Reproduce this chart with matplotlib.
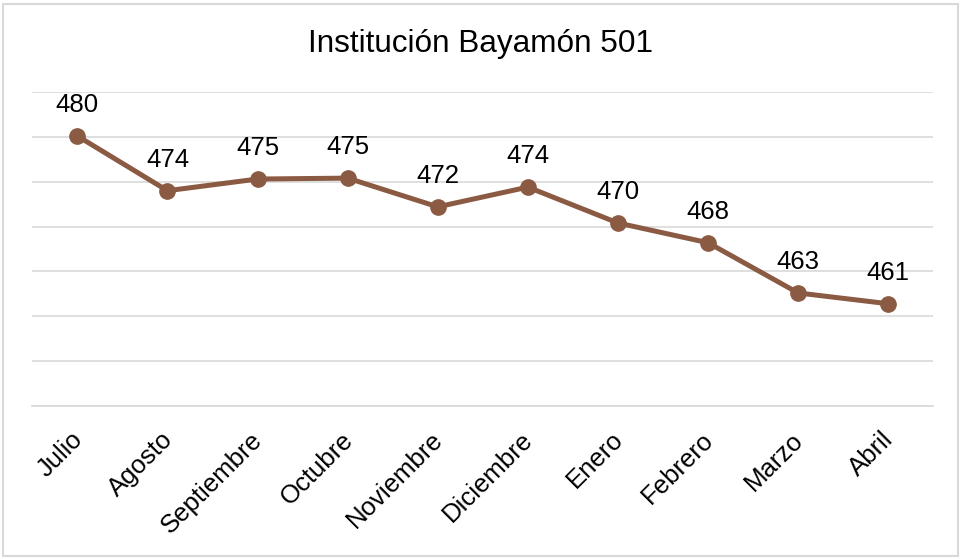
import matplotlib
matplotlib.use("Agg")
import matplotlib.pyplot as plt
from matplotlib.patches import Rectangle
from matplotlib.transforms import ScaledTranslation

# Datos
meses = ["Julio", "Agosto", "Septiembre", "Octubre", "Noviembre",
         "Diciembre", "Enero", "Febrero", "Marzo", "Abril"]
valores = [480.1, 474.0, 475.3, 475.4, 472.2, 474.4, 470.4, 468.2, 462.6, 461.4]
etiquetas = ["480", "474", "475", "475", "472", "474", "470", "468", "463", "461"]
titulo = "Institución Bayamón 501"

plt.rcParams["font.family"] = ["Liberation Sans", "DejaVu Sans"]

color_linea = "#8B5A42"
color_grid = "#d9d9d9"

fig = plt.figure(figsize=(9.61, 5.59), dpi=100)
ax = fig.add_axes([0.0336, 0.2737, 0.9376, 0.5617])

x = range(len(meses))
ax.plot(x, valores, color=color_linea, lw=3.6, marker="o", ms=11,
        solid_capstyle="round", zorder=3)

# Etiquetas de datos encima de cada punto
for xi, v, lbl in zip(x, valores, etiquetas):
    ax.annotate(lbl, (xi, v), xytext=(0, 17.3), textcoords="offset points",
                ha="center", va="baseline", fontsize=18.5, color="black")

ax.set_xlim(-0.5, len(meses) - 0.5)
ax.set_ylim(450, 485)
ax.set_yticks(range(450, 486, 5))
ax.yaxis.grid(True, color=color_grid, lw=1.2)
ax.set_axisbelow(True)
ax.tick_params(axis="y", left=False, labelleft=False)
ax.tick_params(axis="x", length=0, pad=15.5)
ax.set_xticks(list(x))
ax.set_xticklabels(meses, rotation=45, ha="right", rotation_mode="anchor",
                   fontsize=18.5)
desplaza = ScaledTranslation(-7 / 100, 0, fig.dpi_scale_trans)
for t in ax.get_xticklabels():
    t.set_transform(t.get_transform() + desplaza)
for s in ["top", "right", "left"]:
    ax.spines[s].set_visible(False)
ax.spines["bottom"].set_color(color_grid)
ax.spines["bottom"].set_linewidth(1.2)

fig.text(0.5, 1 - 52 / 559, titulo, ha="center", va="baseline", fontsize=22.7)

# Borde del area del grafico
fig.patches.append(Rectangle((2.5 / 961, 3.5 / 559), 955 / 961, 552 / 559,
                             transform=fig.transFigure, fill=False,
                             edgecolor=color_grid, lw=1.5))

fig.savefig("out.png", dpi=100)
